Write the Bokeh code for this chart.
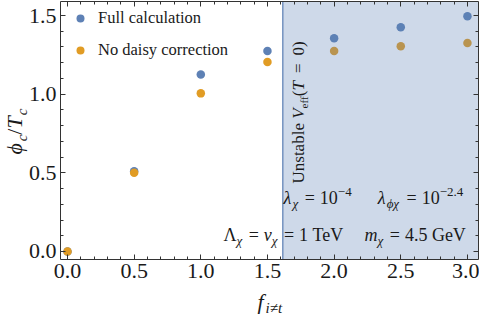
import numpy as np
from bokeh.plotting import figure
from bokeh.models import (Label, BoxAnnotation, LinearAxis, FixedTicker,
                          NumeralTickFormatter, Legend, LegendItem, Range1d)
from bokeh.embed import file_html
from bokeh.resources import INLINE

# ---------------- data ----------------
f_vals = [0.0, 0.5, 1.0, 1.5, 2.0, 2.5, 3.0]
full_calc = [0.0, 0.51, 1.125, 1.275, 1.355, 1.425, 1.495]
no_daisy = [0.0, 0.50, 1.005, 1.205, 1.275, 1.305, 1.325]
x_ticks = [0.0, 0.5, 1.0, 1.5, 2.0, 2.5, 3.0]
y_ticks = [0.0, 0.5, 1.0, 1.5]
unstable_start = 1.615
series_labels = ["Full calculation", "No daisy correction"]

BLUE = "#5E81B5"
ORANGE = "#E19C24"
FONT = "Liberation Serif"
TXT = "#1a1a1a"
AX = "#333333"

# data area limits
XMIN, XMAX = -0.0525, 3.083
YMIN, YMAX = -0.051, 1.589

W, H = 479, 319
# data-area position on the canvas (pixels)
DL, DR, DT, DB = 60, 478, 1, 259
SX = (DR - DL) / (XMAX - XMIN)
SY = (DB - DT) / (YMAX - YMIN)

# the frame covers the whole canvas so that titles are never clipped;
# the axes are pinned to the data-area edges with fixed_location/bounds.
x_range = Range1d(XMIN - DL / SX, XMAX + (W - DR) / SX)
y_range = Range1d(YMIN - (H - DB) / SY, YMAX + DT / SY)

p = figure(width=W, height=H, output_backend="svg", toolbar_location=None,
           x_range=x_range, y_range=y_range, x_axis_location=None,
           y_axis_location=None, min_border=0, background_fill_color="white",
           border_fill_color="white")
p.title.visible = False
p.xgrid.visible = False
p.ygrid.visible = False
p.outline_line_color = None

xminor = [round(v, 2) for v in np.arange(0, 3.1, 0.1)]
yminor = [round(v, 2) for v in np.arange(0, 1.6, 0.1)]


def make_axis(ticks, minor, bounds, loc, labels=True):
    ax = LinearAxis(fixed_location=loc, bounds=bounds, level="overlay")
    ax.ticker = FixedTicker(ticks=ticks, minor_ticks=minor)
    ax.formatter = NumeralTickFormatter(format="0.0")
    ax.axis_line_color = AX
    ax.major_tick_line_color = AX
    ax.minor_tick_line_color = AX
    ax.major_tick_in = 5
    ax.major_tick_out = 0
    ax.minor_tick_in = 3
    ax.minor_tick_out = 0
    if labels:
        ax.major_label_text_font = FONT
        ax.major_label_text_font_size = "22px"
        ax.major_label_text_color = TXT
        ax.major_label_standoff = 4
    else:
        ax.major_label_text_color = None
        ax.major_label_text_alpha = 0
        ax.major_label_standoff = 0
    return ax


p.add_layout(make_axis(x_ticks, xminor, (XMIN, XMAX), YMIN), "below")
p.add_layout(make_axis(y_ticks, yminor, (YMIN, YMAX), XMIN), "left")
p.add_layout(make_axis(x_ticks, xminor, (XMIN, XMAX), YMAX, labels=False), "above")
p.add_layout(make_axis(y_ticks, yminor, (YMIN, YMAX), XMAX, labels=False), "right")

r1 = p.scatter(f_vals, full_calc, size=8.5, color=BLUE, line_color=None)
r2 = p.scatter(f_vals, no_daisy, size=8.5, color=ORANGE, line_color=None)

# shaded unstable region (drawn over the points)
p.add_layout(BoxAnnotation(left=unstable_start, right=XMAX, bottom=YMIN, top=YMAX,
                           fill_color=BLUE, fill_alpha=0.3, line_color=None))
p.add_layout(BoxAnnotation(left=unstable_start, right=unstable_start, bottom=YMIN,
                           top=YMAX, fill_alpha=0, line_color=BLUE, line_width=1,
                           line_alpha=0.8))

LEG_H = 2 * 5 + 20 + 20 + 12
legend = Legend(items=[LegendItem(label=series_labels[0], renderers=[r1]),
                       LegendItem(label=series_labels[1], renderers=[r2])],
                location=(DL + 5, H - DT - LEG_H + 3), margin=0, padding=5,
                spacing=12, glyph_width=30, glyph_height=20, label_height=20,
                label_standoff=3, border_line_color=None,
                background_fill_alpha=0, label_text_font=FONT,
                label_text_font_size="16.5px", label_text_color=TXT)
p.add_layout(legend)

# --------- rich text helper ---------
WR = {' ': .25, '(': .333, ')': .333, '=': .564, '.': .25, '−': .564, 'T': .611,
      'e': .444, 'V': .722, 'G': .722, 'U': .722, 'n': .5, 's': .389, 't': .278,
      'a': .444, 'b': .5, 'l': .278, 'f': .333, 'Λ': .722, '/': .278}
WI = {'V': .611, 'T': .556, 'v': .444, 'm': .722, 'f': .278, 'i': .278, 't': .278,
      'c': .444, 'ϕ': .6, 'χ': .55, 'λ': .5, '≠': .549}
K = 0.32  # baseline correction (fraction of font size)


def width(txt, ital):
    tab = WI if ital else WR
    return sum(tab.get(ch, WR.get(ch, .5)) for ch in txt)


def PX(px):
    return XMIN + (px - DL) / SX


def PY(py):
    return YMAX - (py - DT) / SY


def rich(pieces, px0, py0, angle=0.0):
    adv = 0.0
    for item in pieces:
        if isinstance(item, (int, float)):
            adv += item
            continue
        txt, size, ital, shift = item
        up = shift + K * size
        if angle == 0:
            px, py = px0 + adv, py0 - up
        else:
            px, py = px0 - up, py0 - adv
        p.add_layout(Label(x=PX(px), y=PY(py), text=txt, text_font=FONT,
                           text_font_size=f"{size}px",
                           text_font_style="italic" if ital else "normal",
                           angle=angle, text_align="left",
                           text_baseline="alphabetic", text_color=TXT))
        adv += width(txt, ital) * size


R, I = False, True
line1 = [("λ", 18, I, 0), ("χ", 13, I, -4), 5, ("=", 18, R, 0), 5, ("10", 18, R, 0),
         ("−4", 13, R, 7), 26, ("λ", 18, I, 0), ("ϕχ", 13, I, -4), 5, ("=", 18, R, 0), 5,
         ("10", 18, R, 0), ("−2.4", 13, R, 7)]
rich(line1, 283, 203)

line2 = [("Λ", 18, R, 0), ("χ", 13, I, -4), 5, ("=", 18, R, 0), 5, ("v", 18, I, 0),
         ("χ", 13, I, -4), 5, ("=", 18, R, 0), 5, ("1", 18, R, 0), 4.5, ("TeV", 18, R, 0),
         20, ("m", 18, I, 0), ("χ", 13, I, -4), 5, ("=", 18, R, 0), 5, ("4.5", 18, R, 0),
         4.5, ("GeV", 18, R, 0)]
rich(line2, 223, 240)

rot = [("Unstable ", 17, R, 0), ("V", 17, I, 0), ("eff", 11, R, -4), ("(", 17, R, 0),
       ("T", 17, I, 0), 8, ("=", 17, R, 0), 8, ("0", 17, R, 0), (")", 17, R, 0)]
rich(rot, 303, 183, angle=np.pi / 2)

# axis titles
ytitle = [("ϕ", 22, I, 0), ("c", 15, I, -5), ("/", 22, R, 0), ("T", 22, I, 0), 1,
          ("c", 15, I, -5)]
rich(ytitle, 21, 154, angle=np.pi / 2)

xtitle = [("f", 22, I, 0), 2, ("i≠t", 15, I, -4)]
rich(xtitle, 257, 308)

open("out.html", "w").write(file_html(p, INLINE))
